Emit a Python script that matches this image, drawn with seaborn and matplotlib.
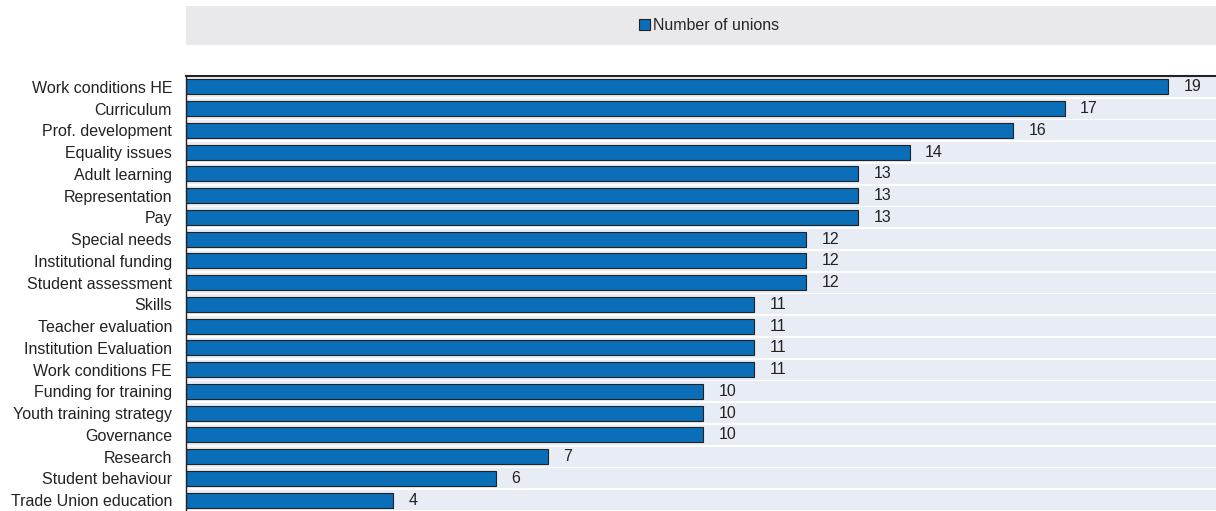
import matplotlib
matplotlib.use("Agg")
import matplotlib.pyplot as plt
import seaborn as sns
import pandas as pd
from matplotlib.patches import Rectangle

topics = [
    "Work conditions HE", "Curriculum", "Prof. development", "Equality issues",
    "Adult learning", "Representation", "Pay", "Special needs",
    "Institutional funding", "Student assessment", "Skills", "Teacher evaluation",
    "Institution Evaluation", "Work conditions FE", "Funding for training",
    "Youth training strategy", "Governance", "Research", "Student behaviour",
    "Trade Union education",
]
unions = [19, 17, 16, 14, 13, 13, 13, 12, 12, 12, 11, 11, 11, 11, 10, 10, 10, 7, 6, 4]
series_name = "Number of unions"

df = pd.DataFrame({"topic": topics, "count": unions})

sns.set_theme(style="white")
plt.rcParams["font.family"] = ["Liberation Sans", "DejaVu Sans"]

bar_color = "#0a6eb8"
band_color = "#e8ecf5"
ink = "#222222"
fs = 11.5

fig = plt.figure(figsize=(12.16, 5.11), dpi=100)
ax = fig.add_axes([186 / 1216, 0.0, 1 - 186 / 1216, (511 - 76) / 511])

# alternating row bands behind the bars
for i in range(len(topics)):
    ax.axhspan(i - 0.46, i + 0.46, color=band_color, zorder=0, lw=0)

sns.barplot(data=df, y="topic", x="count", orient="h", color=bar_color,
            saturation=1, width=0.68, edgecolor=ink, linewidth=0.8,
            ax=ax, zorder=2)

for i, v in enumerate(unions):
    ax.text(v + 0.3, i, str(v), va="center", ha="left", fontsize=fs, color=ink)

ax.set_xlim(0, 19.93)
ax.set_ylim(len(topics) - 0.5, -0.5)
ax.set_xlabel("")
ax.set_ylabel("")
ax.set_xticks([])
ax.tick_params(axis="y", labelsize=fs, length=0, pad=10, colors=ink)
ax.set_yticks([i + 0.5 for i in range(len(topics))], minor=True)
ax.tick_params(axis="y", which="minor", direction="in", length=4, width=0.8,
               color=ink)
for side in ["right", "bottom"]:
    ax.spines[side].set_visible(False)
ax.spines["left"].set_color(ink)
ax.spines["left"].set_linewidth(1.0)
ax.spines["top"].set_color(ink)
ax.spines["top"].set_linewidth(1.5)

# legend strip above the chart
fig.patches.append(Rectangle((186 / 1216, 1 - 45 / 511), 1 - 186 / 1216, 39 / 511,
                             transform=fig.transFigure, facecolor="#e9e9eb",
                             edgecolor="none", zorder=0))
handle = Rectangle((0, 0), 1, 1, facecolor=bar_color, edgecolor=ink, lw=0.8)
fig.legend([handle], [series_name], loc="center", bbox_to_anchor=(709 / 1216, 1 - 26 / 511),
           frameon=False, fontsize=fs, handlelength=0.7, handleheight=0.7,
           handletextpad=0.2, borderpad=0)

fig.savefig("out.png", dpi=100)
